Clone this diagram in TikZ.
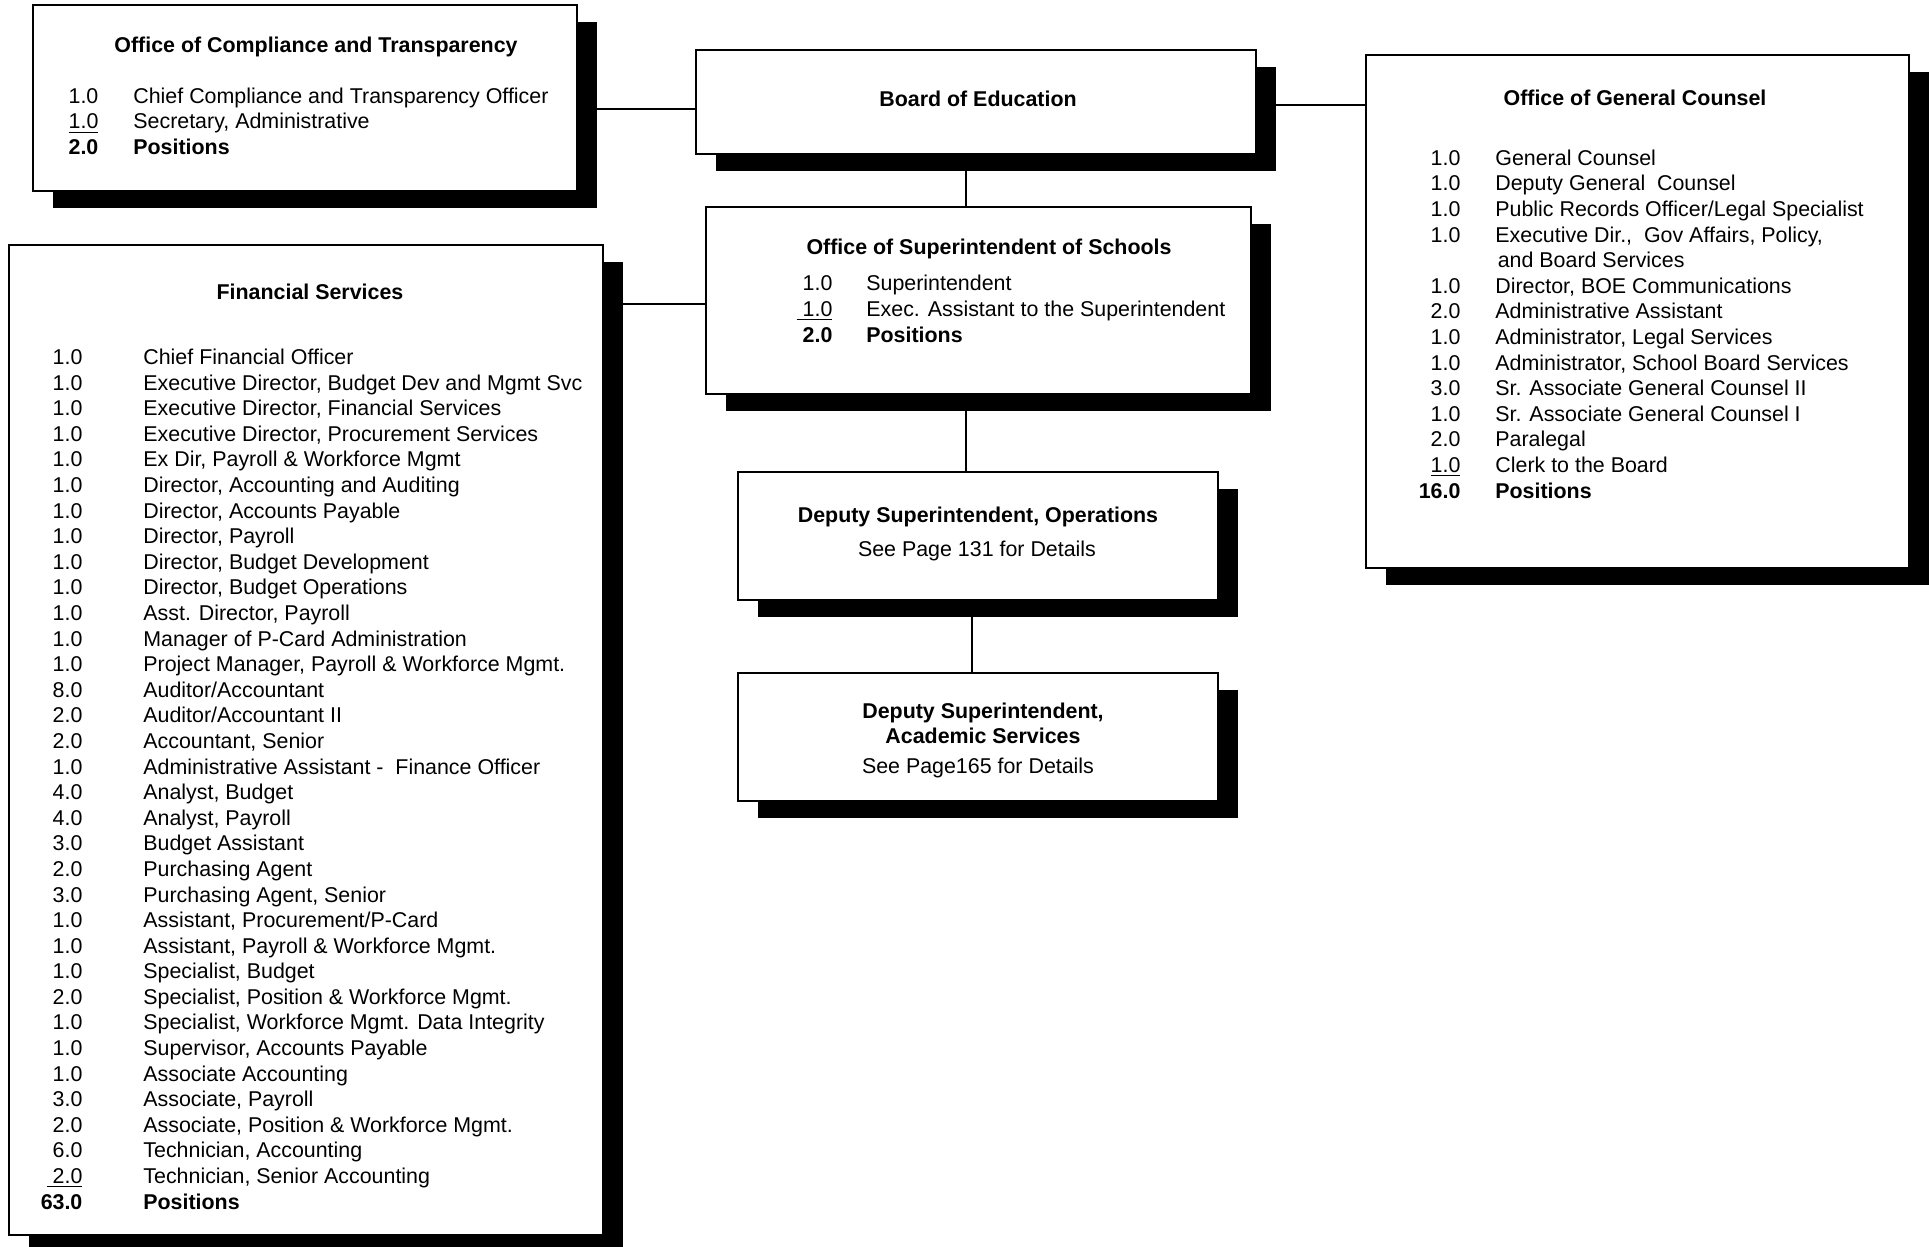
\documentclass[tikz,border=0pt]{standalone}
\usepackage{fontspec}
\setmainfont{Liberation Sans}
\usetikzlibrary{shadows}
\newlength\numgap
\newcommand{\rw}[2]{\llap{#1\hspace{\numgap}}#2}
\begin{document}
\begin{tikzpicture}[x=0.5pt,y=-0.5pt,
  box/.style={draw, line width=0.8pt, fill=white, inner sep=0pt, outer sep=0pt,
    drop shadow={shadow xshift=10pt, shadow yshift=-8.5pt, opacity=1, fill=black}},
  conn/.style={line width=1pt},
  ttl/.style={anchor=base, inner sep=0pt, yshift=-0.7pt, font=\bfseries\fontsize{10.7}{12.8}\selectfont},
  sub/.style={anchor=base, inner sep=0pt, yshift=-0.7pt, font=\fontsize{10.7}{12.8}\selectfont},
  lst/.style={anchor=base west, inner sep=0pt, yshift=-0.7pt, font=\fontsize{10.7}{12.8}\selectfont}]
\useasboundingbox (0,0) rectangle (1929,1247);

% boxes
\node[box, minimum width=272pt, minimum height=93pt] (comp) at (305,98) {};
\node[box, minimum width=280pt, minimum height=52pt] (board) at (976,102) {};
\node[box, minimum width=271.5pt, minimum height=256.5pt] (ogc) at (1637.5,311.5) {};
\node[box, minimum width=272.5pt, minimum height=93.5pt] (super) at (978.5,300.5) {};
\node[box, minimum width=297pt, minimum height=495pt] (fin) at (306,740) {};
\node[box, minimum width=240pt, minimum height=64pt] (ops) at (978,536) {};
\node[box, minimum width=240pt, minimum height=64pt] (acad) at (978,737) {};

% connectors
\coordinate (y1) at (0,109.5);
\coordinate (y2) at (0,104.6);
\coordinate (y3) at (0,304);
\draw[conn] (comp.east |- y1) -- (board.west |- y1);
\draw[conn] (board.east |- y2) -- (ogc.west |- y2);
\draw[conn] ([xshift=-5pt]board.south) -- ([xshift=-5pt]board.south |- super.north);
\draw[conn] (fin.east |- y3) -- (super.west |- y3);
\draw[conn] ([xshift=-6.25pt]super.south) -- ([xshift=-6.25pt]super.south |- ops.north);
\draw[conn] ([xshift=-3pt]ops.south) -- ([xshift=-3pt]ops.south |- acad.north);

% titles
\node[ttl] (compT) at (316,51) {Office of Compliance and Transparency};
\node[ttl] (boardT) at (978,105) {Board of Education};
\node[ttl] (ogcT) at (1635,104) {Office of General Counsel};
\node[ttl] (superT) at (989,253) {Office of Superintendent of Schools};
\node[ttl] (finT) at (310,298) {Financial Services};
\node[ttl] (opsT) at (978,521) {Deputy Superintendent, Operations};
\node[sub] (opsS) at (977,555) {See Page 131 for Details};
\node[ttl] (acadT1) at (983,717) {Deputy Superintendent,};
\node[ttl] (acadT2) at (983,742) {Academic Services};
\node[sub] (acadS) at (978,772) {See Page165 for Details};

% lists
\node[lst] (compL) at (133,102) {\setlength\numgap{17.5pt}\begin{tabular}[t]{@{}l@{}}
\rw{1.0}{Chief Compliance and Transparency Officer}\\
\rw{\underline{1.0}}{Secretary, Administrative}\\
\rw{\textbf{2.0}}{\textbf{Positions}}
\end{tabular}};

\node[lst] (superL) at (866,289.5) {\setlength\numgap{17pt}\begin{tabular}[t]{@{}l@{}}
\rw{1.0}{Superintendent}\\
\rw{\underline{\ 1.0}}{Exec. Assistant to the Superintendent}\\
\rw{\textbf{2.0}}{\textbf{Positions}}
\end{tabular}};

\node[lst] (ogcL) at (1495,164) {\setlength\numgap{17.5pt}\begin{tabular}[t]{@{}l@{}}
\rw{1.0}{General Counsel}\\
\rw{1.0}{Deputy General\ \ Counsel}\\
\rw{1.0}{Public Records Officer/Legal Specialist}\\
\rw{1.0}{Executive Dir.,\ \ Gov Affairs, Policy,}\\
\hspace{1.2pt}and Board Services\\
\rw{1.0}{Director, BOE Communications}\\
\rw{2.0}{Administrative Assistant}\\
\rw{1.0}{Administrator, Legal Services}\\
\rw{1.0}{Administrator, School Board Services}\\
\rw{3.0}{Sr. Associate General Counsel II}\\
\rw{1.0}{Sr. Associate General Counsel I}\\
\rw{2.0}{Paralegal}\\
\rw{\underline{1.0}}{Clerk to the Board}\\
\rw{\textbf{16.0}}{\textbf{Positions}}
\end{tabular}};

\node[lst] (finL) at (143,363) {\setlength\numgap{30.5pt}\begin{tabular}[t]{@{}l@{}}
\rw{1.0}{Chief Financial Officer}\\
\rw{1.0}{Executive Director, Budget Dev and Mgmt Svc}\\
\rw{1.0}{Executive Director, Financial Services}\\
\rw{1.0}{Executive Director, Procurement Services}\\
\rw{1.0}{Ex Dir, Payroll \& Workforce Mgmt}\\
\rw{1.0}{Director, Accounting and Auditing}\\
\rw{1.0}{Director, Accounts Payable}\\
\rw{1.0}{Director, Payroll}\\
\rw{1.0}{Director, Budget Development}\\
\rw{1.0}{Director, Budget Operations}\\
\rw{1.0}{Asst. Director, Payroll}\\
\rw{1.0}{Manager of P-Card Administration}\\
\rw{1.0}{Project Manager, Payroll \& Workforce Mgmt.}\\
\rw{8.0}{Auditor/Accountant}\\
\rw{2.0}{Auditor/Accountant II}\\
\rw{2.0}{Accountant, Senior}\\
\rw{1.0}{Administrative Assistant -\ \ Finance Officer}\\
\rw{4.0}{Analyst, Budget}\\
\rw{4.0}{Analyst, Payroll}\\
\rw{3.0}{Budget Assistant}\\
\rw{2.0}{Purchasing Agent}\\
\rw{3.0}{Purchasing Agent, Senior}\\
\rw{1.0}{Assistant, Procurement/P-Card}\\
\rw{1.0}{Assistant, Payroll \& Workforce Mgmt.}\\
\rw{1.0}{Specialist, Budget}\\
\rw{2.0}{Specialist, Position \& Workforce Mgmt.}\\
\rw{1.0}{Specialist, Workforce Mgmt. Data Integrity}\\
\rw{1.0}{Supervisor, Accounts Payable}\\
\rw{1.0}{Associate Accounting}\\
\rw{3.0}{Associate, Payroll}\\
\rw{2.0}{Associate, Position \& Workforce Mgmt.}\\
\rw{6.0}{Technician, Accounting}\\
\rw{\underline{\ 2.0}}{Technician, Senior Accounting}\\
\rw{\textbf{63.0}}{\textbf{Positions}}
\end{tabular}};
\end{tikzpicture}
\end{document}
